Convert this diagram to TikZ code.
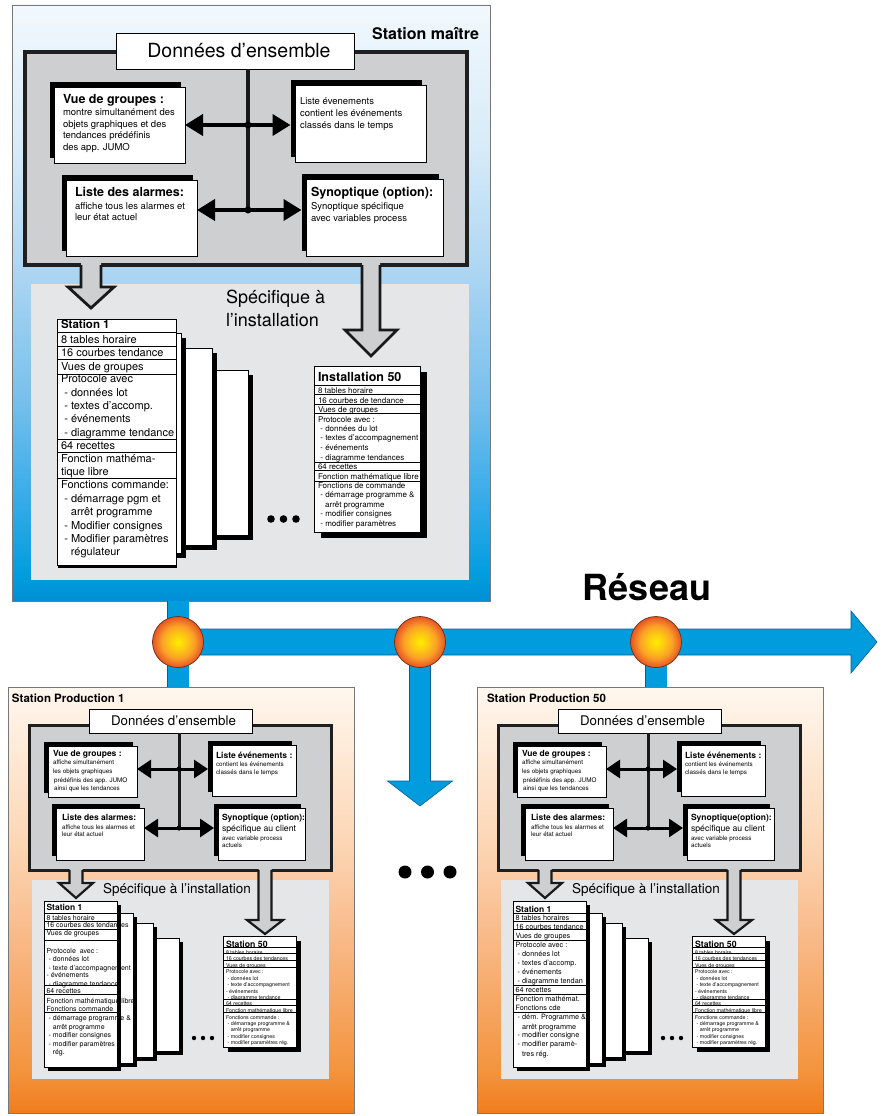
\documentclass[tikz,border=0pt]{standalone}
\usepackage{fontspec}
\setmainfont{TeX Gyre Heros}
\usetikzlibrary{arrows.meta,positioning,calc,shadows}

\newcommand{\rowind}{\hspace*{0.3em}}
\newcommand{\rowcont}{\hspace*{0.9em}}

\definecolor{netblue}{RGB}{0,156,222}   \definecolor{netdark}{RGB}{0,96,150}
\definecolor{mdeep}{RGB}{0,142,212}     \definecolor{mblue}{RGB}{50,170,232}
\definecolor{skyblue}{RGB}{120,192,236} \definecolor{lightsky}{RGB}{170,212,242}
\definecolor{paleblue}{RGB}{215,235,248}\definecolor{topblue}{RGB}{242,248,253}
\definecolor{deeporange}{RGB}{240,125,30}\definecolor{midorange}{RGB}{243,148,62}
\definecolor{apricot}{RGB}{248,184,134} \definecolor{peach}{RGB}{252,215,182}
\definecolor{cream}{RGB}{255,247,238}
\definecolor{panelgray}{RGB}{206,207,209} \definecolor{specgray}{RGB}{229,230,232}
\definecolor{framegray}{RGB}{120,120,120}
\definecolor{ballcore}{RGB}{255,236,0}  \definecolor{ballmid}{RGB}{250,160,40}
\definecolor{ballrim}{RGB}{230,84,36}   \definecolor{hubline}{RGB}{110,45,20}

\pgfdeclareverticalshading{masterfade}{100bp}{color(0bp)=(mdeep); color(25bp)=(mdeep); color(27bp)=(netblue); color(33bp)=(mblue); color(42bp)=(skyblue); color(52bp)=(lightsky); color(63bp)=(paleblue); color(75bp)=(topblue); color(100bp)=(topblue)}
\pgfdeclareverticalshading{prodfade}{100bp}{color(0bp)=(deeporange); color(25bp)=(deeporange); color(30bp)=(midorange); color(45bp)=(apricot); color(57bp)=(peach); color(75bp)=(cream); color(100bp)=(cream)}
\pgfdeclareradialshading{hubball}{\pgfpoint{0bp}{0bp}}{color(0bp)=(ballcore); color(8bp)=(ballcore!55!ballmid); color(16bp)=(ballmid); color(25bp)=(ballrim); color(50bp)=(ballrim)}

\begin{document}
\begin{tikzpicture}[x=1pt, y=-1pt,
    >={Triangle[length=18pt,width=21pt]},
    station/.style={draw=framegray, line width=0.8pt, shade, anchor=north west, inner sep=0pt, outer sep=0pt},
    spec/.style={fill=specgray, anchor=north west, inner sep=0pt, outer sep=0pt},
    panel/.style={draw=black!88, line width=4pt, fill=panelgray, anchor=north west, inner sep=0pt, outer sep=0pt},
    databox/.style={draw, fill=white, line width=0.6pt, inner sep=0pt, outer sep=0pt},
    infobox/.style 2 args={draw, fill=white, line width=0.5pt, anchor=north west, inner sep=0pt, outer sep=0pt,
        drop shadow={shadow xshift=#1, shadow yshift=#2, opacity=1, fill=black}},
    card/.style 2 args={draw, fill=white, line width=0.5pt, anchor=north west, inner sep=0pt, outer sep=0pt,
        drop shadow={shadow xshift=#1, shadow yshift=#2, opacity=1, fill=black}},
    row/.style={anchor=west, inner sep=0pt, outer sep=0pt, text height=1.5ex, text depth=.25ex},
    mtitle/.style={row, font=\fontsize{12.5}{14}\selectfont\bfseries},
    mbody/.style={row, font=\fontsize{9.5}{11}\selectfont},
    mspec/.style={row, font=\fontsize{18}{20}\selectfont},
    ptitle/.style={row, font=\fontsize{8.5}{10}\selectfont\bfseries},
    pbody/.style={row, font=\fontsize{6.3}{7}\selectfont},
    pmid/.style={row, font=\fontsize{8.7}{9}\selectfont},
    rowrule/.style={line width=0.6pt},
    bus/.style={draw=black!90, line width=4pt},
    dblarrow/.style={<->, line width=4pt, shorten >=4.5pt},
    hollow/.style={draw=black!90, line width=2.8pt, line join=miter, miter limit=10},
    netbar/.style={draw=netblue, line width=21pt, preaction={draw=netdark, line width=22.2pt}},
    netarrow/.style={fill=netblue, draw=netdark, line width=0.6pt, line join=miter},
    hub/.style={circle, inner sep=0pt, outer sep=0pt, minimum size=51pt, draw=hubline, line width=0.7pt, shade, shading=hubball},
]

\useasboundingbox (0,0) rectangle (882,1116);

% ---------- helpers: text rows, card rows, hollow gray arrow ----------
\def\textrows#1#2#3#4{%
  \foreach \yy/\txt [count=\k] in {#4} \node[#3] (#1-\k) at (#2,\yy) {\txt};}
\def\cardrows#1#2#3#4#5#6{% card, text x, font size, rows, rules, clip extension
  \begin{scope}
    \clip (#1.north west) rectangle ([xshift=#6]#1.south east);
    \foreach \yy/\txt [count=\k] in {#4}
      \node[row, font=\fontsize{#3}{#3}\selectfont] (#1-r\k) at (#2,\yy) {\txt};
  \end{scope}
  \foreach \yy in {#5} \draw[rowrule] (#1.west |- 0,\yy) -- (#1.east |- 0,\yy);}
\def\graydrop#1#2#3#4#5#6{% x, panel bottom, head top, tip, half shaft, half head
  \fill[panelgray] (#1-#5,#2-3) -- (#1-#5,#3) -- (#1-#6,#3) -- (#1,#4) -- (#1+#6,#3) -- (#1+#5,#3) -- (#1+#5,#2-3) -- cycle;
  \draw[hollow] (#1-#5,#2) -- (#1-#5,#3) -- (#1-#6,#3) -- (#1,#4) -- (#1+#6,#3) -- (#1+#5,#3) -- (#1+#5,#2);}

% ---------- Master station ----------
\node[station, shading=masterfade, minimum width=478pt, minimum height=596pt] (master) at (12,5) {};
\node[row, anchor=east, font=\fontsize{16}{18}\selectfont\bfseries] (master-title) at (479,36) {Station maître};

\node[spec, minimum width=438pt, minimum height=296pt] (m-spec) at (31,284) {};
\textrows{m-spec}{226}{mspec}{300/Spécifique à, 323/l’installation}

% ---------- Master: global data panel ----------
\node[panel, minimum width=442pt, minimum height=213pt] (m-panel) at (25,52) {};
\node[databox, minimum width=238pt, minimum height=36pt, font=\fontsize{19.5}{22}\selectfont] (m-data) at (235,51) {\hspace*{8pt}Données d’ensemble};
\coordinate (m-j1) at (248,125);
\coordinate (m-j2) at (248,210);
\draw[bus] (m-data.south -| m-j1) -- (m-j2);

\node[infobox={-4pt}{5pt}, minimum width=131pt, minimum height=76pt] (m-vue) at (54,87) {};
\node[infobox={-4pt}{5pt}, minimum width=131pt, minimum height=77pt] (m-evt) at (295,85) {};
\node[infobox={-4pt}{5pt}, minimum width=131pt, minimum height=76pt] (m-alarm) at (66,180) {};
\node[infobox={-4pt}{5pt}, minimum width=137pt, minimum height=77pt] (m-syn) at (306,179) {};

\textrows{m-vue-h}{63}{mtitle}{100/Vue de groupes :}
\textrows{m-vue-b}{63}{mbody}{112/montre simultanément des, 124/objets graphiques et des, 135/tendances prédéfinis, 147/des app. JUMO}
\textrows{m-evt-b}{300}{mbody}{101/Liste évenements, 113/contient les événements, 125/classés dans le temps}
\textrows{m-alarm-h}{75}{mtitle}{193/Liste des alarmes:}
\textrows{m-alarm-b}{75}{mbody}{206/affiche tous les alarmes et, 217/leur état actuel}
\textrows{m-syn-h}{311}{mtitle}{193/Synoptique (option):}
\textrows{m-syn-b}{311}{mbody}{206/Synoptique spécifique, 218/avec variables process}

\draw[dblarrow] (m-vue.east |- m-j1) -- (m-evt.west |- m-j1);
\draw[dblarrow] (m-alarm.east |- m-j2) -- (m-syn.west |- m-j2);
\fill (m-j1) circle (3.5pt);
\fill (m-j2) circle (3.5pt);

\graydrop{91}{265}{287}{308}{10}{23}
\graydrop{371}{265}{330}{356}{9}{26}

% ---------- Master: station cards ----------
\node[card={5pt}{-5pt}, minimum width=58pt, minimum height=165pt] (m-c3) at (190,370) {};
\node[card={5pt}{-5pt}, minimum width=62pt, minimum height=197pt] (m-c2) at (150,348) {};
\node[card={5pt}{-5pt}, minimum width=81pt, minimum height=220pt] (m-c1) at (100,333) {};
\node[card={1pt}{-2.5pt}, minimum width=119pt, minimum height=246pt] (m-st1) at (57,319) {};
\cardrows{m-st1}{61}{11}{325/{\fontsize{11.5}{12}\selectfont\bfseries Station 1}, 340/8 tables horaire, 353/16 courbes tendance,
  367/Vues de groupes, 379/Protocole avec, 393/\rowind- données lot, 406/\rowind- textes d’accomp., 419/\rowind- événements,
  433/\rowind- diagramme tendance, 446/64 recettes, 459/Fonction mathéma-, 472/tique libre, 485/Fonctions commande:,
  499/\rowind- démarrage pgm et, 512/\rowcont arrêt programme, 526/\rowind- Modifier consignes, 539/\rowind- Modifier paramètres,
  552/\rowcont régulateur}{332,346,359,374,439,452,478}{2pt}

\node[card={7pt}{-6pt}, minimum width=106pt, minimum height=166pt] (m-inst50) at (314,366) {};
\cardrows{m-inst50}{318}{8}{378.5/{\fontsize{12.5}{13}\selectfont\bfseries Installation 50}, 390/8 tables horaire, 400/16 courbes de tendance,
  409/Vues de groupes, 419/Protocole avec :, 428/\rowind- données du lot, 437/\rowind- textes d’accompagnement,
  447/\rowind- événements, 457/\rowind- diagramme tendances, 466/64 recettes, 476/Fonction mathématique libre,
  485/Fonctions de commande, 494/\rowind- démarrage programme \&, 504/\rowcont arrêt programme,
  513/\rowind- modifier consignes, 523/\rowind- modifier paramètres}{385,394,404,413,462,470,481}{0pt}
\foreach \dx in {271,283.5,296} \fill (\dx,519) circle (3.8pt);

% ---------- Production station (shifted copy) ----------
\def\prodstation#1#2#3#4#5#6#7{% name, x shift, title, synoptic title, card font, clip, card rows
  \begin{scope}[shift={(#2,0)}, >={Triangle[length=14pt,width=18pt]},
      dblarrow/.append style={line width=3pt, shorten >=4pt},
      hollow/.append style={line width=2.2pt}, bus/.append style={line width=3pt}]
    \node[station, shading=prodfade, minimum width=346pt, minimum height=426pt] (#1) at (8,687) {};
    \node[row, font=\fontsize{11.5}{12}\selectfont\bfseries] (#1-title) at (12,699) {#3};
    \node[spec, minimum width=297pt, minimum height=199pt] (#1-spec) at (32,880) {};
    \node[row, font=\fontsize{13.5}{14}\selectfont] (#1-spec-t) at (103,890) {Spécifique à l’installation};
    \node[panel, line width=3pt, minimum width=302pt, minimum height=145pt] (#1-panel) at (29,725) {};
    \node[databox, minimum width=163pt, minimum height=24pt, font=\fontsize{13.3}{15}\selectfont] (#1-data) at (170.5,721) {\hspace*{6pt}Données d’ensemble};
    \coordinate (#1-j1) at (179,769);
    \coordinate (#1-j2) at (179,828);
    \draw[bus] (#1-data.south -| #1-j1) -- (#1-j2);
    \node[infobox={-4pt}{4pt}, minimum width=89pt, minimum height=51pt] (#1-vue) at (48,746) {};
    \node[infobox={-4pt}{4pt}, minimum width=84pt, minimum height=51pt] (#1-evt) at (212,745) {};
    \node[infobox={-4pt}{4pt}, minimum width=88pt, minimum height=52pt] (#1-alarm) at (56,808) {};
    \node[infobox={-4pt}{4pt}, minimum width=87pt, minimum height=52pt] (#1-syn) at (218,808) {};
    \textrows{#1-vue-h}{53}{ptitle}{753/Vue de groupes :}
    \textrows{#1-vue-b}{53}{pbody}{761/affiche simultanément, 770/les objets graphiques, 779/\,prédéfinis des app. JUMO, 787/\,ainsi que les tendances}
    \textrows{#1-evt-h}{216}{ptitle}{755/Liste événements :}
    \textrows{#1-evt-b}{216}{pbody}{763/contient les événements, 771/classés dans le temps}
    \textrows{#1-alarm-h}{62}{ptitle}{817/Liste des alarmes:}
    \textrows{#1-alarm-b}{62}{pbody}{826/affiche tous les alarmes et, 833/leur état actuel}
    \textrows{#1-syn-h}{222}{ptitle}{817/{#4}}
    \textrows{#1-syn-m}{222}{pmid}{828/spécifique au client}
    \textrows{#1-syn-b}{222}{pbody}{837/avec variable process, 844/actuels}
    \draw[dblarrow] (#1-vue.east |- #1-j1) -- (#1-evt.west |- #1-j1);
    \draw[dblarrow] (#1-alarm.east |- #1-j2) -- (#1-syn.west |- #1-j2);
    \fill (#1-j1) circle (2.6pt);
    \fill (#1-j2) circle (2.6pt);
    \graydrop{76}{870}{883}{898}{6.5}{17}
    \graydrop{265}{870}{920}{934}{6.5}{18}
    \node[card={4pt}{-4pt}, minimum width=39pt, minimum height=113pt] (#1-c3) at (140,938) {};
    \node[card={4pt}{-4pt}, minimum width=43pt, minimum height=134pt] (#1-c2) at (110,923) {};
    \node[card={4pt}{-4pt}, minimum width=43pt, minimum height=150pt] (#1-c1) at (90,913) {};
    \node[card={4pt}{-4pt}, minimum width=73pt, minimum height=166pt] (#1-st1) at (44,901) {};
    \cardrows{#1-st1}{46.5}{#5}{#7}{913,921,929.5,940,985.5,994,1012.5}{#6}
    \node[card={5pt}{-5pt}, minimum width=73pt, minimum height=111pt] (#1-st50) at (223,936) {};
    \cardrows{#1-st50}{226}{5.3}{944/{\fontsize{8.7}{9}\selectfont\bfseries Station 50}, 951/8 tables horaire, 957/16 courbes des tendances,
      964/Vues de groupes, 970.5/Protocole avec :, 977/\rowind- données lot, 983/\rowind- texte d’accompagnement,
      990/- événements, 996/\rowind- diagramme tendance, 1002/64 recettes, 1009/Fonction mathématique libre,
      1016/Fonctions commande :, 1022/\rowind- démarrage programme \&, 1028/\rowcont arrêt programme,
      1035/\rowind- modifier consignes, 1041/\rowind- modifier paramètres rég.}{947,953.5,960.5,967,999,1005,1012}{0pt}
    \foreach \dx in {194,203,212} \fill (\dx,1038) circle (2.2pt);
  \end{scope}}

\prodstation{p1}{0}{Station Production 1}{Synoptique (option):}{7}{16pt}{907/{\fontsize{8.5}{9}\selectfont\bfseries Station 1},
  917/8 tables horaire, 924.5/16 courbes des tendances, 932.5/Vues de groupes, 950/Protocole\ \ avec :, 958/\rowind- données lot,
  967/\rowind- texte d’accompagnement, 974/- événements, 983/\rowind- diagramme tendance, 990.5/64 recettes,
  1000/Fonction mathématique libre, 1008/Fonctions commande, 1017/\rowind- démarrage programme \&, 1026/\rowcont arrêt programme,
  1034/\rowind- modifier consignes, 1043/\rowind- modifier paramètres, 1051/\rowcont rég.}

\prodstation{p50}{469}{\hspace*{6pt}Station Production 50}{Synoptique(option):}{7.3}{0pt}{909/{\fontsize{8.5}{9}\selectfont\bfseries Station 1},
  917/8 tables horaires, 926/16 courbes tendance, 935/Vues de groupes, 944/Protocole avec :, 953/\rowind- données lot,
  962/\rowind- textes d’accomp., 971/\rowind- événements, 980/\rowind- diagramme tendan, 989/64 recettes,
  998/Fonction mathémat., 1007/Fonctions cde, 1016/\rowind- dém. Programme \&, 1026/\rowcont arrêt programme,
  1034/\rowind- modifier consigne, 1043/\rowind- modifier paramè-, 1053/\rowcont tres rég.}

% ---------- Network ----------
\coordinate (h1) at (178,642);
\coordinate (h2) at (420,642);
\coordinate (h3) at (656,642);
\filldraw[netarrow] (178,629) -- (851,629) -- (851,611) -- (877,642) -- (851,673) -- (851,655) -- (178,655) -- cycle;
\filldraw[netarrow] (409.5,642) -- (409.5,781) -- (387.5,781) -- (420,806) -- (452.5,781) -- (430.5,781) -- (430.5,642) -- cycle;
\draw[netbar] (master.south -| h1) -- (p1.north -| h1);
\draw[netbar] (h3) -- (p50.north -| h3);
\node[hub] (hub1) at (h1) {};
\node[hub] (hub2) at (h2) {};
\node[hub] (hub3) at (h3) {};
\node[font=\fontsize{36}{38}\selectfont\bfseries] (net-label) at (647,587) {Réseau};
\foreach \dx in {405,427.5,450} \fill (\dx,872) circle (6.5pt);

\end{tikzpicture}
\end{document}
